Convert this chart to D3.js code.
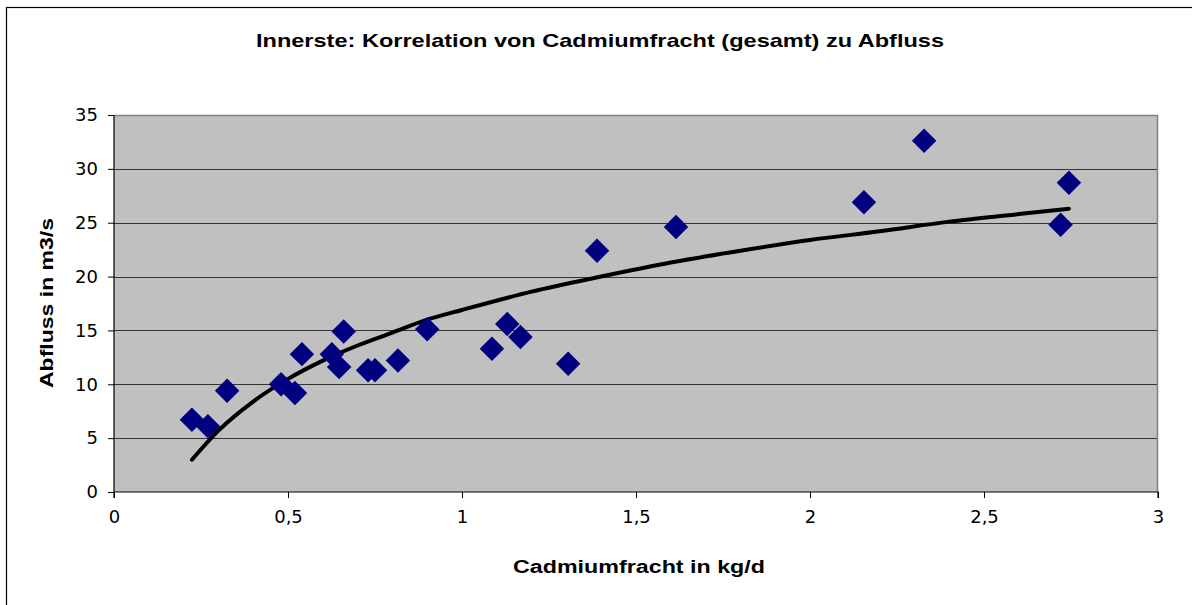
<!DOCTYPE html>
<html>
<head>
<meta charset="utf-8">
<script src="https://cdn.jsdelivr.net/npm/d3@7"></script>
<style>
  body { margin: 0; background: #fff; }
</style>
</head>
<body>
<div id="chart"></div>
<script>
// Cadmiumfracht (kg/d) vs Abfluss (m3/s)
var fracht = [0.224, 0.27, 0.325, 0.48, 0.52, 0.54, 0.626, 0.647, 0.66, 0.73, 0.75, 0.816, 0.9,
              1.086, 1.13, 1.168, 1.305, 1.388, 1.615, 2.155, 2.328, 2.72, 2.744];
var abfluss = [6.7, 6.1, 9.4, 10.0, 9.2, 12.8, 12.8, 11.6, 14.9, 11.3, 11.3, 12.2, 15.1,
               13.3, 15.6, 14.4, 11.9, 22.4, 24.6, 26.9, 32.6, 24.8, 28.7];

// trend line
var trendX = [0.224, 0.3, 0.4, 0.5, 0.6, 0.7, 0.8, 0.9, 1.0, 1.2, 1.4, 1.6, 1.8, 2.0, 2.2, 2.4, 2.6, 2.744];
var trendY = [3.0, 5.7, 8.4, 10.5, 12.2, 13.6, 14.8, 16.0, 16.9, 18.6, 20.0, 21.3, 22.4, 23.4, 24.2, 25.1, 25.8, 26.3];

var xTicks = [0, 0.5, 1, 1.5, 2, 2.5, 3];
var yTicks = [0, 5, 10, 15, 20, 25, 30, 35];

var W = 1192, H = 605;
var margin = {top: 115, bottom: 113, left: 114, right: 34};
var width = W - margin.left - margin.right;
var height = H - margin.top - margin.bottom;
var boldFont = '"Liberation Sans", Arial, sans-serif';

var svg = d3.select('#chart')
    .append('svg')
    .attr('width', W)
    .attr('height', H);

// outer frame (only left and top edges show)
svg.append('rect')
    .attr('x', 6.5).attr('y', 7.5)
    .attr('width', W + 20).attr('height', H + 20)
    .attr('fill', 'none')
    .attr('stroke', '#000')
    .attr('stroke-width', 1.2);

var g = svg.append('g')
    .attr('transform', 'translate(' + margin.left + ',' + margin.top + ')');

var x = d3.scaleLinear().domain([0, 3]).range([0, width]);
var y = d3.scaleLinear().domain([0, 35]).range([height, 0]);

g.append('rect')
    .attr('width', width)
    .attr('height', height)
    .attr('fill', '#c0c0c0');

// grid
g.selectAll('.grid')
    .data(yTicks.slice(1, -1)).enter()
    .append('line')
    .attr('x1', 0).attr('x2', width)
    .attr('y1', d => Math.round(y(d)) + 0.5)
    .attr('y2', d => Math.round(y(d)) + 0.5)
    .attr('stroke', '#333')
    .attr('stroke-width', 1);

// plot border top/right
g.append('path')
    .attr('d', 'M0,0.5H' + (width - 0.5) + 'V' + height)
    .attr('fill', 'none')
    .attr('stroke', '#808080')
    .attr('stroke-width', 1.5);

var xAxis = d3.axisBottom(x)
    .tickValues(xTicks)
    .tickSize(6)
    .tickPadding(12)
    .tickFormat(d => String(d).replace('.', ','));

var yAxis = d3.axisLeft(y)
    .tickValues(yTicks)
    .tickSize(6)
    .tickPadding(10);

var gx = g.append('g')
    .attr('transform', 'translate(0,' + height + ')')
    .call(xAxis);
var gy = g.append('g').call(yAxis);

[gx, gy].forEach(function(a) {
    a.attr('font-family', null).attr('font-size', null);
    a.select('.domain').attr('stroke', '#000').attr('stroke-width', 1.2);
    a.selectAll('.tick line').attr('stroke', '#000');
    a.selectAll('.tick text')
        .attr('fill', '#000')
        .style('font-size', '18px')
        .style('font-family', '"DejaVu Sans", sans-serif');
});
gy.select('.domain').attr('d', 'M-6,0.5H0V' + height);
gx.select('.domain').attr('d', 'M0,6V0H' + width + 'V6');

// trend line
var line = d3.line()
    .x(d => x(d[0]))
    .y(d => y(d[1]))
    .curve(d3.curveMonotoneX);

g.append('path')
    .datum(trendX.map((v, i) => [v, trendY[i]]))
    .attr('fill', 'none')
    .attr('stroke', '#000')
    .attr('stroke-width', 4)
    .attr('stroke-linecap', 'round')
    .attr('d', line);

// diamonds
var diamond = d3.symbol().type(d3.symbolSquare).size(300);
g.selectAll('.pt')
    .data(fracht.map((v, i) => [v, abfluss[i]])).enter()
    .append('path')
    .attr('d', diamond)
    .attr('transform', d => 'translate(' + x(d[0]) + ',' + y(d[1]) + ') rotate(45)')
    .attr('fill', '#000080');

// titles (stretched to the wide bold face of the original)
svg.append('text')
    .attr('x', 256).attr('y', 47)
    .style('font-family', boldFont)
    .style('font-size', '19px')
    .style('font-weight', 'bold')
    .attr('textLength', 688)
    .attr('lengthAdjust', 'spacingAndGlyphs')
    .text('Innerste: Korrelation von Cadmiumfracht (gesamt) zu Abfluss');

svg.append('text')
    .attr('x', 513).attr('y', 573)
    .style('font-family', boldFont)
    .style('font-size', '18px')
    .style('font-weight', 'bold')
    .attr('textLength', 252)
    .attr('lengthAdjust', 'spacingAndGlyphs')
    .text('Cadmiumfracht in kg/d');

svg.append('text')
    .attr('transform', 'translate(53,388) rotate(-90)')
    .style('font-family', boldFont)
    .style('font-size', '18px')
    .style('font-weight', 'bold')
    .attr('textLength', 170)
    .attr('lengthAdjust', 'spacingAndGlyphs')
    .text('Abfluss in m3/s');
</script>
</body>
</html>
